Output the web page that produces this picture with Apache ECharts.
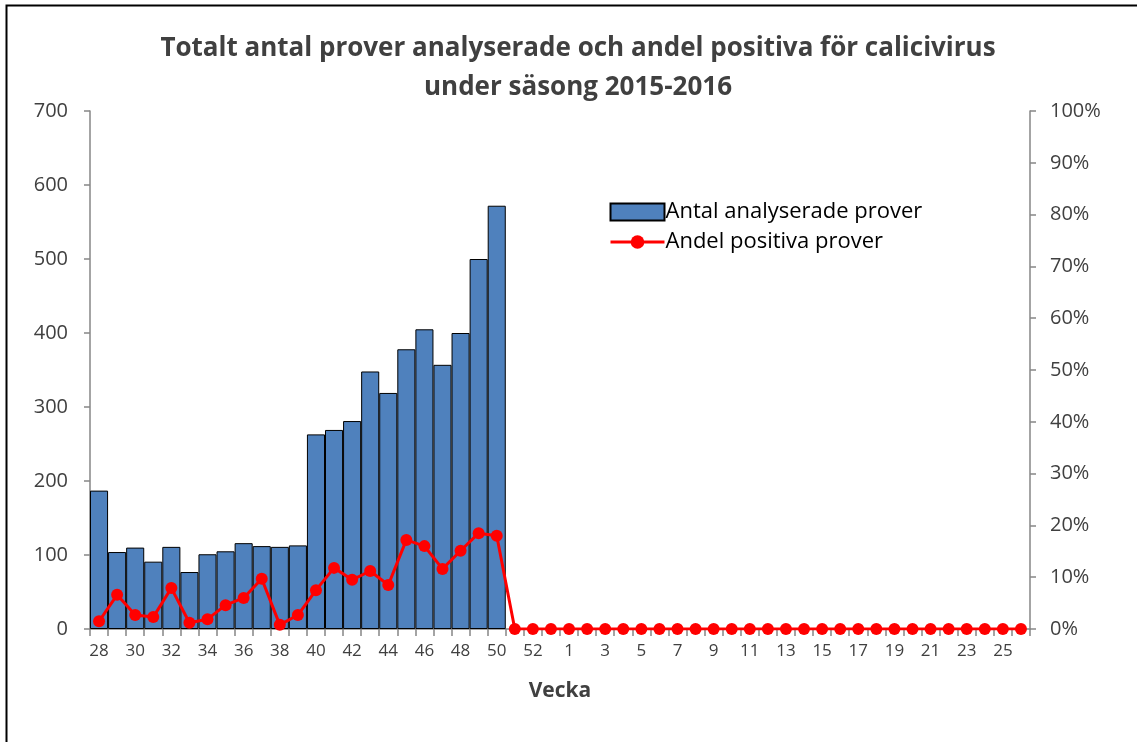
<!DOCTYPE html>
<html>
<head>
<meta charset="utf-8">
<script src="https://cdn.jsdelivr.net/npm/echarts@6/dist/echarts.min.js"></script>
<style>
html,body{margin:0;padding:0;background:#fff;}
#c{width:1137px;height:742px;}
</style>
</head>
<body>
<div id="c"></div>
<script>
var weeks = ['28','29','30','31','32','33','34','35','36','37','38','39','40','41','42','43','44','45','46','47','48','49','50','51','52','53',
  '1','2','3','4','5','6','7','8','9','10','11','12','13','14','15','16','17','18','19','20','21','22','23','24','25','26'];
var antalValues = [187,104,110,91,111,77,101,105,116,112,111,113,263,269,281,348,319,378,405,357,400,500,572];
var andelValues = [1.5,6.6,2.7,2.3,7.9,1.2,1.9,4.6,6.0,9.7,0.8,2.7,7.5,11.8,9.5,11.2,8.5,17.2,16.0,11.6,15.1,18.5,18.0,
  0,0,0,0,0,0,0,0,0,0,0,0,0,0,0,0,0,0,0,0,0,0,0,0,0,0,0,0,0];
var leftTicks = [0,100,200,300,400,500,600,700];
var rightTicks = ['0%','10%','20%','30%','40%','50%','60%','70%','80%','90%','100%'];

var barData = weeks.map(function(w,i){ return i < antalValues.length ? antalValues[i] : null; });

var font = '"Open Sans", "Liberation Sans", sans-serif';
var chart = echarts.init(document.getElementById('c'));
chart.setOption({
  animation: false,
  textStyle: {fontFamily: font},
  title: {
    text: 'Totalt antal prover analyserade och andel positiva för calicivirus\nunder säsong 2015-2016',
    left: 573, textAlign: 'center', top: 24,
    textStyle: {fontSize: 26, fontWeight: 'bold', color: '#404040', lineHeight: 39, fontFamily: font}
  },
  graphic: [{
    type: 'rect', shape: {x: 6.5, y: 5.5, width: 1140, height: 760},
    style: {fill: 'none', stroke: '#000', lineWidth: 2}, silent: true
  }],
  legend: {
    orient: 'vertical', left: 604, top: 196, itemGap: 8,
    itemWidth: 54, itemHeight: 17,
    textStyle: {fontSize: 22, color: '#000', fontFamily: font, padding: [0,0,0,-4]},
    data: [
      {name: 'Antal analyserade prover', icon: 'rect'},
      {name: 'Andel positiva prover', lineStyle: {width: 3}}
    ]
  },
  grid: {left: 90, right: 107, top: 111, bottom: 113, containLabel: false},
  xAxis: {
    type: 'category', data: weeks,
    name: 'Vecka', nameLocation: 'middle', nameGap: 52,
    nameTextStyle: {fontSize: 21, fontWeight: 'bold', color: '#404040', fontFamily: font},
    axisLine: {lineStyle: {color: '#868686', width: 1.5}},
    axisTick: {show: true, length: 7, alignWithLabel: false, interval: 0, lineStyle: {color: '#868686', width: 1.5}},
    axisLabel: {interval: 1, fontSize: 17, color: '#404040', margin: 14, fontFamily: font}
  },
  yAxis: [{
    type: 'value', min: 0, max: 700, interval: 100,
    axisLine: {show: true, lineStyle: {color: '#868686', width: 1.5}},
    axisTick: {show: true, length: 6, lineStyle: {color: '#868686', width: 1.5}},
    splitLine: {show: false},
    axisLabel: {fontSize: 20, color: '#404040', margin: 22, fontFamily: font,
      formatter: function(v){ return String(leftTicks[Math.round(v/100)]); }}
  }, {
    type: 'value', min: 0, max: 100, interval: 10, position: 'right',
    axisLine: {show: true, lineStyle: {color: '#868686', width: 1.5}},
    axisTick: {show: true, length: 6, lineStyle: {color: '#868686', width: 1.5}},
    splitLine: {show: false},
    axisLabel: {fontSize: 20, color: '#404040', margin: 20, fontFamily: font,
      formatter: function(v){ return rightTicks[Math.round(v/10)]; }}
  }],
  series: [{
    name: 'Antal analyserade prover', type: 'bar', yAxisIndex: 0,
    data: barData, barCategoryGap: '0%',
    itemStyle: {color: '#4f81bd', borderColor: '#000', borderWidth: 1}
  }, {
    name: 'Andel positiva prover', type: 'line', yAxisIndex: 1,
    data: andelValues, symbol: 'circle', symbolSize: 12,
    lineStyle: {color: '#ff0000', width: 3},
    itemStyle: {color: '#ff0000'}
  }]
});
</script>
</body>
</html>
